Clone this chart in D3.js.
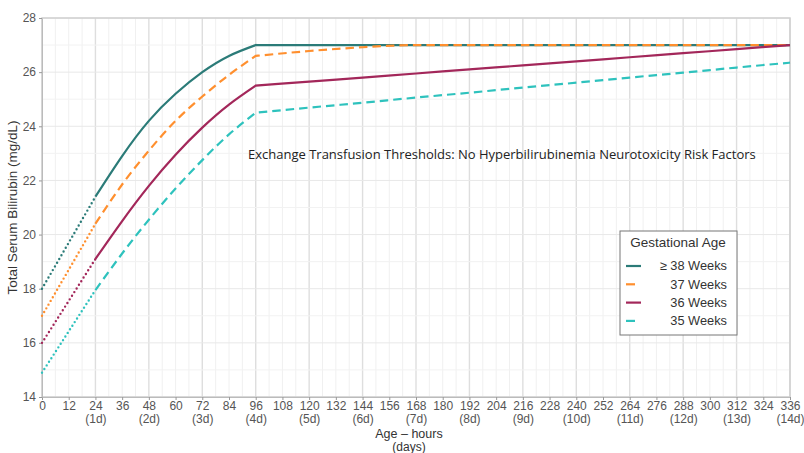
<!DOCTYPE html>
<html>
<head>
<meta charset="utf-8">
<script src="https://cdn.jsdelivr.net/npm/d3@7"></script>
<style>
  body { margin: 0; background: #fff; }
  svg { display: block; font-family: "Liberation Sans", Arial, sans-serif; }
</style>
</head>
<body>
<svg id="chart" width="804" height="453"></svg>
<script>
// hours at which the curves are read
const HOURS = [24, 36, 48, 60, 72, 84, 96, 120, 144, 168, 192, 216, 240, 264, 288, 312, 336];

// threshold values (mg/dL) per gestational age, starting at 24 h
const GA38 = [21.4, 22.9, 24.2, 25.2, 26.0, 26.6, 27.0, 27.0, 27.0, 27.0, 27.0, 27.0, 27.0, 27.0, 27.0, 27.0, 27.0];
const GA37 = [20.4, 21.85, 23.1, 24.2, 25.1, 25.9, 26.6, 26.78, 26.92, 27.0, 27.0, 27.0, 27.0, 27.0, 27.0, 27.0, 27.0];
const GA36 = [19.1, 20.5, 21.8, 22.95, 23.95, 24.8, 25.5, 25.65, 25.8, 25.95, 26.1, 26.25, 26.4, 26.55, 26.7, 26.85, 27.0];
const GA35 = [17.95, 19.3, 20.55, 21.7, 22.75, 23.7, 24.5, 24.69, 24.87, 25.06, 25.24, 25.43, 25.61, 25.8, 25.98, 26.17, 26.35];

// value at birth (dotted extrapolation 0–24 h)
const START_VALUES = [18, 17, 16, 14.9];

const SERIES_NAMES = ['≥ 38 Weeks', '37 Weeks', '36 Weeks', '35 Weeks'];
const SERIES_COLORS = ['#2b7b78', '#ff8f2e', '#a3275a', '#2ec2bd'];
const SERIES_DASH = [null, '8.5,5', null, '8.5,5'];

const X_TICKS = d3.range(0, 337, 12);
const Y_TICKS = [14, 16, 18, 20, 22, 24, 26, 28];

const svg = d3.select('#chart');
const margin = { left: 42, top: 18, right: 14, bottom: 56 };
const width = 804, height = 453;

const x = d3.scaleLinear().domain([0, 336]).range([margin.left, width - margin.right]);
const y = d3.scaleLinear().domain([14, 28]).range([height - margin.bottom, margin.top]);

// grid
const grid = svg.append('g');
grid.selectAll('line.minx')
  .data(d3.range(0, 337, 6))
  .join('line')
  .attr('x1', d => x(d)).attr('x2', d => x(d))
  .attr('y1', y(14)).attr('y2', y(28))
  .attr('stroke', d => d % 24 === 0 ? '#dedede' : '#f0f0f0')
  .attr('stroke-width', d => d % 24 === 0 ? 1.4 : 1);
grid.selectAll('line.miny')
  .data(d3.range(14, 28.1, 1))
  .join('line')
  .attr('x1', x(0)).attr('x2', x(336))
  .attr('y1', d => y(d)).attr('y2', d => y(d))
  .attr('stroke', d => d % 2 === 0 ? '#e8e8e8' : '#f2f2f2');

// frame
svg.append('rect')
  .attr('x', x(0)).attr('y', y(28))
  .attr('width', x(336) - x(0)).attr('height', y(14) - y(28))
  .attr('fill', 'none').attr('stroke', '#cfcfcf').attr('stroke-width', 1.5);

// axes
const xAxis = svg.append('g')
  .attr('transform', `translate(0,${y(14)})`)
  .call(d3.axisBottom(x).tickValues(X_TICKS).tickSize(3).tickSizeOuter(0)
    .tickFormat(d3.format('d')));
xAxis.select('.domain').attr('stroke', '#bbb');
xAxis.selectAll('.tick line').attr('stroke', '#999');
xAxis.selectAll('.tick text').attr('fill', '#555').attr('font-size', 12).attr('dy', '0.55em');
xAxis.selectAll('.tick')
  .filter(d => d > 0 && d % 24 === 0)
  .append('text')
  .attr('y', 17).attr('dy', '0.71em')
  .attr('fill', '#555').attr('font-size', 12)
  .text(d => `(${d / 24}d)`);

const yAxis = svg.append('g')
  .attr('transform', `translate(${x(0)},0)`)
  .call(d3.axisLeft(y).tickValues(Y_TICKS).tickSize(3).tickSizeOuter(0));
yAxis.select('.domain').attr('stroke', '#bbb');
yAxis.selectAll('.tick line').attr('stroke', '#999');
yAxis.selectAll('.tick text').attr('fill', '#555').attr('font-size', 12);

// axis titles
svg.append('text')
  .attr('transform', `translate(17,${(y(14) + y(28)) / 2}) rotate(-90)`)
  .attr('text-anchor', 'middle')
  .attr('font-size', 13.5).attr('fill', '#333')
  .text('Total Serum Bilirubin (mg/dL)');
svg.append('text')
  .attr('x', 409).attr('y', 438)
  .attr('text-anchor', 'middle').attr('font-size', 12.5).attr('fill', '#333')
  .text('Age – hours');
svg.append('text')
  .attr('x', 409).attr('y', 451)
  .attr('text-anchor', 'middle').attr('font-size', 12).attr('fill', '#333')
  .text('(days)');

// curves: smooth rise until 96 h, then the slow late part
const allSeries = [GA38, GA37, GA36, GA35];
const riseLine = d3.line().x(d => x(d[0])).y(d => y(d[1])).curve(d3.curveNatural);
const lateLine = d3.line().x(d => x(d[0])).y(d => y(d[1])).curve(d3.curveMonotoneX);
const straight = d3.line().x(d => x(d[0])).y(d => y(d[1]));

const curves = svg.append('g').attr('fill', 'none');
allSeries.forEach((values, i) => {
  const g = curves.append('g')
    .attr('stroke', SERIES_COLORS[i])
    .attr('stroke-width', 2.2);

  // dotted extrapolation from birth
  g.append('path')
    .datum([[0, START_VALUES[i]], [24, values[0]]])
    .attr('d', straight)
    .attr('stroke-width', 2.4)
    .attr('stroke-linecap', 'round')
    .attr('stroke-dasharray', '0,4.3');

  const pts = HOURS.map((h, k) => [h, values[k]]);
  const rise = pts.filter(d => d[0] <= 96);
  const late = pts.filter(d => d[0] >= 96);
  // join both parts into one path so the dash pattern runs on
  const d = riseLine(rise) + lateLine(late).replace(/^M[^LC]*/, 'L' + x(96) + ',' + y(rise[rise.length - 1][1]));
  g.append('path')
    .attr('d', d)
    .attr('stroke-dasharray', SERIES_DASH[i]);
});

// chart annotation
svg.append('text')
  .attr('x', 248).attr('y', 159)
  .attr('font-size', 13).attr('fill', '#222')
  .attr('font-family', '"Open Sans", sans-serif')
  .text('Exchange Transfusion Thresholds: No Hyperbilirubinemia Neurotoxicity Risk Factors');

// legend
const legend = svg.append('g').attr('transform', 'translate(620,231)');
legend.append('rect')
  .attr('width', 117).attr('height', 104)
  .attr('fill', '#fff').attr('stroke', '#777').attr('stroke-width', 1);
legend.append('text')
  .attr('x', 58).attr('y', 16)
  .attr('text-anchor', 'middle').attr('font-size', 13.5).attr('fill', '#333')
  .text('Gestational Age');
const rows = legend.selectAll('g.row')
  .data(SERIES_NAMES)
  .join('g')
  .attr('transform', (d, i) => `translate(0,${35 + i * 18.3})`);
rows.append('line')
  .attr('x1', 6).attr('x2', 21)
  .attr('stroke', (d, i) => SERIES_COLORS[i])
  .attr('stroke-width', 2.2)
  .attr('stroke-dasharray', (d, i) => SERIES_DASH[i] ? '9,6' : null);
rows.append('text')
  .attr('x', 107).attr('dy', '0.35em')
  .attr('text-anchor', 'end').attr('font-size', 12.8).attr('fill', '#333')
  .text(d => d);
</script>
</body>
</html>
